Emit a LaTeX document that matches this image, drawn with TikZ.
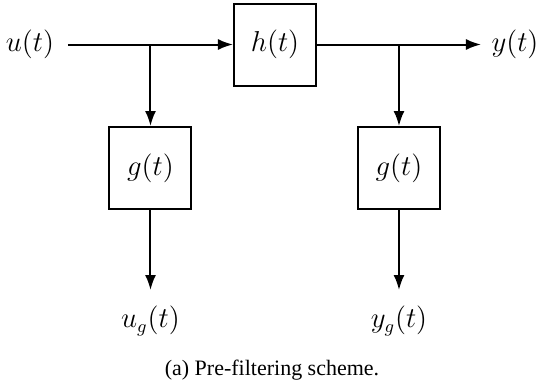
\documentclass[tikz,border=0pt]{standalone}
\usepackage{fontspec}
\newfontfamily\capfont{Liberation Serif}
\usetikzlibrary{arrows.meta}
\begin{document}
\begin{tikzpicture}[x=0.5pt,y=-0.5pt,
  blk/.style={draw,line width=1pt,minimum width=41pt,minimum height=41pt,inner sep=0pt,font=\fontsize{13.5}{16}\selectfont},
  lbl/.style={inner sep=0pt,font=\fontsize{13.5}{16}\selectfont},
  sig/.style={line width=1pt,-{Latex[length=7.5pt,width=5.5pt]}},
  wire/.style={line width=1pt}]
\useasboundingbox (0,0) rectangle (538,386);
\node[lbl] (u) at (30,44.5) {$u(t)$};
\coordinate (us) at (68,44.5);
\node[blk] (h) at (275,44.5) {$h(t)$};
\node[blk] (g1) at (150.5,168) {$g(t)$};
\node[blk] (g2) at (399,168) {$g(t)$};
\coordinate (b1) at (150.5,44.5);
\coordinate (b2) at (399,44.5);
\coordinate (ye) at (481,44.5);
\node[lbl] (y) at (515,44.5) {$y(t)$};
\coordinate (ue) at (150.5,290);
\coordinate (yge) at (399,290);
\node[lbl] (ug) at (150.5,321) {$u_g(t)$};
\node[lbl] (yg) at (399,321) {$y_g(t)$};
\node[inner sep=0pt,font=\capfont\fontsize{11}{13}\selectfont] (cap) at (272,370) {(a) Pre-filtering scheme.};
\draw[sig] (us) -- (h.west);
\draw[sig] (b1) -- (g1.north);
\draw[sig] (h.east) -- (ye);
\draw[sig] (b2) -- (g2.north);
\draw[sig] (g1.south) -- (ue);
\draw[sig] (g2.south) -- (yge);
\end{tikzpicture}
\end{document}
